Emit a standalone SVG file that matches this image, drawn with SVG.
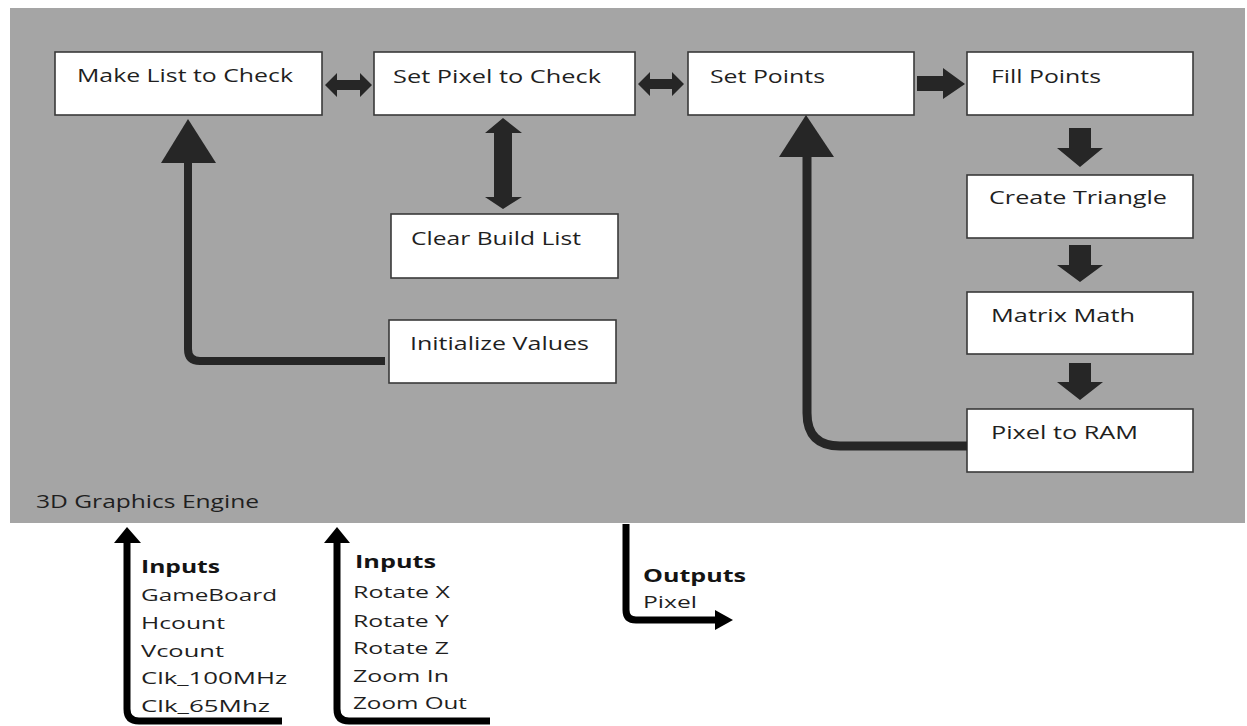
<svg xmlns="http://www.w3.org/2000/svg" width="1247" height="726" viewBox="0 0 1247 726">
  <style>
    .panel { fill: #a5a5a5; }
    .box { fill: #ffffff; stroke: #3a3a3a; stroke-width: 1.6; }
    .lbl { font-family: "Open Sans", "Liberation Sans", sans-serif; font-size: 19px; fill: #1f1f1f; }
    .io { font-family: "Open Sans", "Liberation Sans", sans-serif; font-size: 17px; fill: #1f1f1f; }
    .io-h { font-family: "Open Sans", "Liberation Sans", sans-serif; font-size: 18px; font-weight: bold; fill: #141414; }
    .blk { fill: #262626; }
    .wire { fill: none; stroke: #262626; }
    .ext { fill: none; stroke: #000000; stroke-width: 7; }
    .exth { fill: #000000; }
  </style>

  <!-- engine panel -->
  <rect class="panel" x="10" y="8" width="1235" height="515"/>
  <text class="lbl" x="36" y="508" font-size="18" textLength="223" lengthAdjust="spacingAndGlyphs">3D Graphics Engine</text>

  <!-- blocks -->
  <g id="make-list">
    <rect class="box" x="55" y="52" width="267" height="63"/>
    <text class="lbl" x="77" y="82" textLength="216" lengthAdjust="spacingAndGlyphs">Make List to Check</text>
  </g>
  <g id="set-pixel">
    <rect class="box" x="374" y="52" width="261" height="63"/>
    <text class="lbl" x="393" y="83" textLength="208" lengthAdjust="spacingAndGlyphs">Set Pixel to Check</text>
  </g>
  <g id="set-points">
    <rect class="box" x="688" y="52" width="226" height="63"/>
    <text class="lbl" x="710" y="83" textLength="115" lengthAdjust="spacingAndGlyphs">Set Points</text>
  </g>
  <g id="fill-points">
    <rect class="box" x="967" y="52" width="226" height="63"/>
    <text class="lbl" x="991" y="83" textLength="110" lengthAdjust="spacingAndGlyphs">Fill Points</text>
  </g>
  <g id="create-triangle">
    <rect class="box" x="967" y="175" width="226" height="63"/>
    <text class="lbl" x="989" y="204" textLength="178" lengthAdjust="spacingAndGlyphs">Create Triangle</text>
  </g>
  <g id="matrix-math">
    <rect class="box" x="967" y="292" width="226" height="62"/>
    <text class="lbl" x="991" y="322" textLength="144" lengthAdjust="spacingAndGlyphs">Matrix Math</text>
  </g>
  <g id="pixel-to-ram">
    <rect class="box" x="967" y="409" width="226" height="63"/>
    <text class="lbl" x="991" y="439" textLength="147" lengthAdjust="spacingAndGlyphs">Pixel to RAM</text>
  </g>
  <g id="clear-build-list">
    <rect class="box" x="391" y="214" width="227" height="64"/>
    <text class="lbl" x="411" y="245" textLength="170" lengthAdjust="spacingAndGlyphs">Clear Build List</text>
  </g>
  <g id="initialize-values">
    <rect class="box" x="389" y="320" width="227" height="63"/>
    <text class="lbl" x="410" y="350" textLength="179" lengthAdjust="spacingAndGlyphs">Initialize Values</text>
  </g>

  <!-- connectors -->
  <g id="connectors">
    <!-- make list <-> set pixel -->
    <polygon class="blk" points="325,85 337,73 337,80 360,80 360,73 372,85 360,97 360,90 337,90 337,97"/>
    <!-- set pixel <-> set points -->
    <polygon class="blk" points="638,84 650,72 650,79 672,79 672,72 684,84 672,96 672,89 650,89 650,96"/>
    <!-- set pixel <-> clear build list -->
    <polygon class="blk" points="503,118 522,133 512,133 512,197 522,197 503,209 485,197 494,197 494,133 485,133"/>
    <!-- set points -> fill points -->
    <polygon class="blk" points="917,76 943,76 943,68 965,84 943,99 943,91 917,91"/>
    <!-- vertical chain -->
    <polygon class="blk" points="1069,128 1091,128 1091,148 1103,148 1080,167 1057,148 1069,148"/>
    <polygon class="blk" points="1069,245 1091,245 1091,265 1103,265 1080,282 1057,265 1069,265"/>
    <polygon class="blk" points="1069,363 1091,363 1091,382 1103,382 1080,400 1057,382 1069,382"/>
    <!-- initialize values -> make list -->
    <path class="wire" stroke-width="8" d="M 385 361 H 200 Q 188 361 188 349 V 160"/>
    <polygon class="blk" points="188,119 216,163 161,163"/>
    <!-- pixel to ram -> set points -->
    <path class="wire" stroke-width="9" d="M 967 446 H 840 Q 807 446 807 413 V 152"/>
    <polygon class="blk" points="806,115 834,157 779,157"/>

    <!-- external inputs / outputs -->
    <path class="ext" d="M 127 541 V 709 Q 127 721 139 721 H 282"/>
    <polygon class="exth" points="127,527 141,543 114,543"/>
    <path class="ext" d="M 337 541 V 709 Q 337 721 349 721 H 490"/>
    <polygon class="exth" points="337,527 350,543 324,543"/>
    <path class="ext" d="M 626 524 V 610 Q 626 620 636 620 H 718"/>
    <polygon class="exth" points="733,620 715,610 715,630"/>
  </g>

  <!-- signal lists -->
  <g id="inputs-board">
    <text class="io-h" x="141" y="573" textLength="79" lengthAdjust="spacingAndGlyphs">Inputs</text>
    <text class="io" x="141" y="601" textLength="136" lengthAdjust="spacingAndGlyphs">GameBoard</text>
    <text class="io" x="141" y="629" textLength="84" lengthAdjust="spacingAndGlyphs">Hcount</text>
    <text class="io" x="141" y="657" textLength="83" lengthAdjust="spacingAndGlyphs">Vcount</text>
    <text class="io" x="141" y="684" textLength="146" lengthAdjust="spacingAndGlyphs">Clk_100MHz</text>
    <text class="io" x="141" y="712" textLength="129" lengthAdjust="spacingAndGlyphs">Clk_65Mhz</text>
  </g>
  <g id="inputs-view">
    <text class="io-h" x="355" y="568" textLength="81" lengthAdjust="spacingAndGlyphs">Inputs</text>
    <text class="io" x="353" y="598" textLength="97" lengthAdjust="spacingAndGlyphs">Rotate X</text>
    <text class="io" x="353" y="627" textLength="96" lengthAdjust="spacingAndGlyphs">Rotate Y</text>
    <text class="io" x="353" y="654" textLength="96" lengthAdjust="spacingAndGlyphs">Rotate Z</text>
    <text class="io" x="353" y="682" textLength="96" lengthAdjust="spacingAndGlyphs">Zoom In</text>
    <text class="io" x="353" y="709" textLength="114" lengthAdjust="spacingAndGlyphs">Zoom Out</text>
  </g>
  <g id="outputs">
    <text class="io-h" x="643" y="582" textLength="103" lengthAdjust="spacingAndGlyphs">Outputs</text>
    <text class="io" x="643" y="608" textLength="54" lengthAdjust="spacingAndGlyphs">Pixel</text>
  </g>
</svg>
